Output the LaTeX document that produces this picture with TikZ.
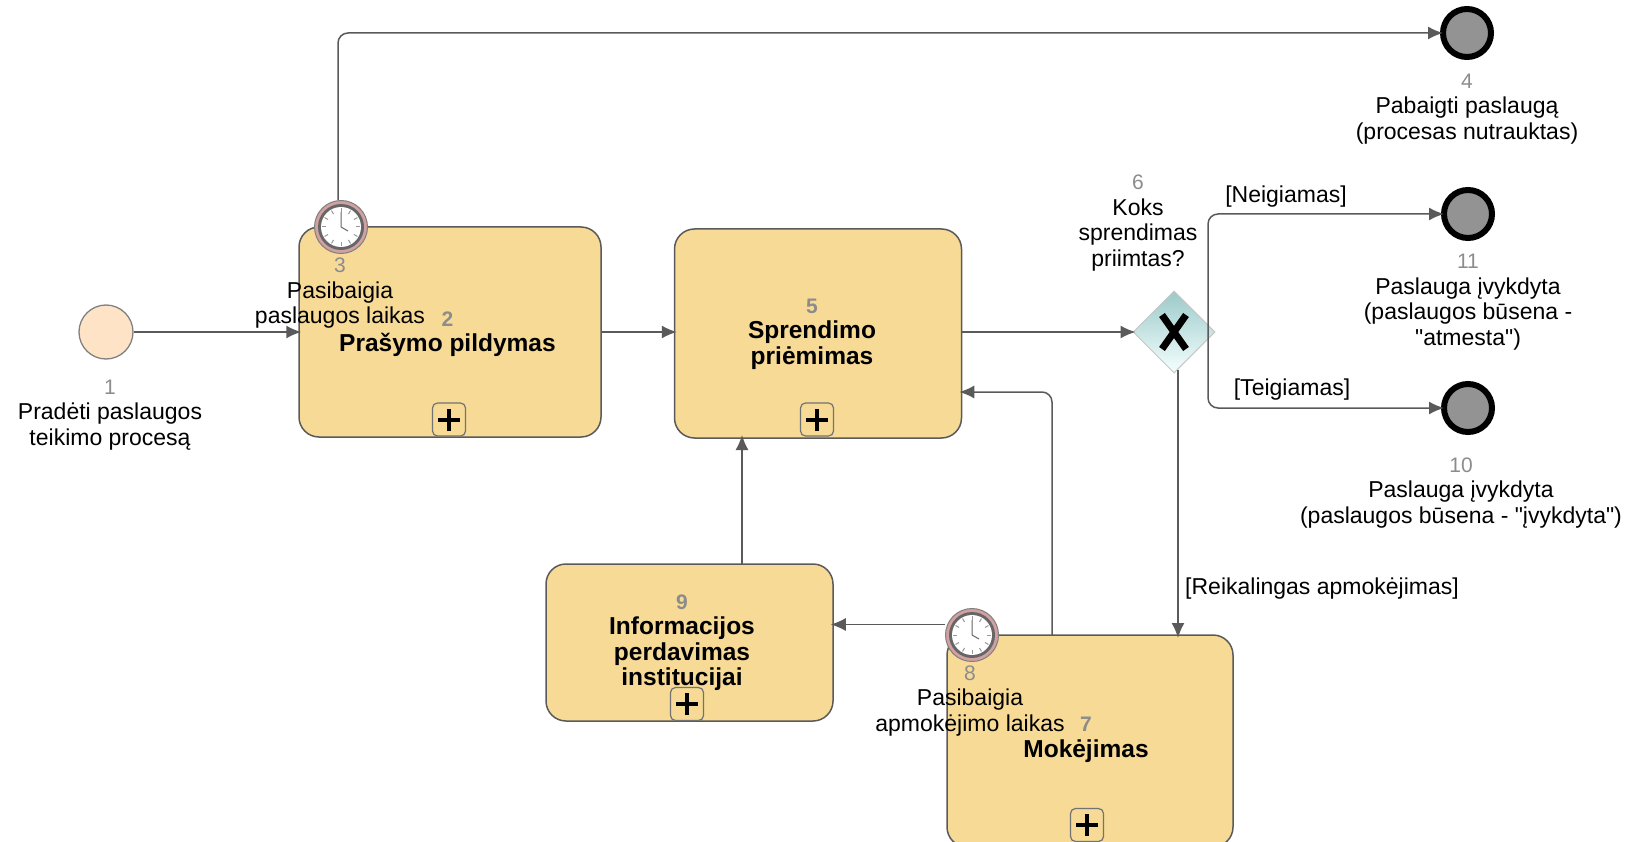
\documentclass[tikz,border=0pt]{standalone}
\usepackage{fontspec}
\setmainfont[Ligatures=TeXOff]{Liberation Sans}
\usetikzlibrary{shapes.geometric, arrows.meta, positioning}
\definecolor{taskfill}{HTML}{F6DA96}
\definecolor{lineg}{HTML}{5A5A5A}
\definecolor{numgray}{HTML}{8C8C8C}
\newcommand{\numlbl}[1]{\textcolor{numgray}{\fontsize{21}{25.5}\selectfont #1}}
\tikzset{
    task/.style={rectangle, draw=lineg, line width=1.5pt, rounded corners=20pt, fill=taskfill, inner sep=0pt},
    tasktext/.style={align=center, inner sep=0pt, font=\fontsize{24.5}{25.5}\selectfont\bfseries},
    txt/.style={align=center, inner sep=0pt, font=\fontsize{23}{25.5}\selectfont},
    flow/.style={draw=lineg, line width=1.5pt, rounded corners=10pt, shorten >=-3pt, -{Latex[length=15pt, width=13pt]}},
    endevent/.style={circle, draw=black, line width=6pt, fill=gray!85, minimum size=48pt, inner sep=0pt},
    startevent/.style={circle, draw=gray, line width=1.3pt, fill=orange!22, minimum size=54pt, inner sep=0pt},
    plusbox/.style={rectangle, draw=gray!90!black, line width=1.2pt, rounded corners=5pt, fill=taskfill, minimum size=33pt, inner sep=0pt,
        path picture={
            \draw[black, line width=4pt] ([xshift=-11pt]path picture bounding box.center) -- ([xshift=11pt]path picture bounding box.center);
            \draw[black, line width=4pt] ([yshift=-11pt]path picture bounding box.center) -- ([yshift=11pt]path picture bounding box.center);
        }},
    gateway/.style={diamond, aspect=1, draw=gray!45, line width=1pt, top color=cyan!30!gray!60, bottom color=cyan!4!white, minimum size=82pt, inner sep=0pt,
        path picture={
            \draw[black, line width=7pt] ([shift={(-12pt,-17pt)}]path picture bounding box.center) -- ([shift={(12pt,17pt)}]path picture bounding box.center);
            \draw[black, line width=7pt] ([shift={(-12pt,17pt)}]path picture bounding box.center) -- ([shift={(12pt,-17pt)}]path picture bounding box.center);
        }},
    timer/.style={circle, draw=gray, line width=1pt, fill=red!35!gray!55, minimum size=53pt, inner sep=0pt,
        path picture={
            \fill[black!60] (path picture bounding box.center) circle (23pt);
            \fill[white] (path picture bounding box.center) circle (20pt);
            \foreach \a in {0,30,...,330}
                \draw[gray!80, line width=1pt] ([shift={(\a:15pt)}]path picture bounding box.center) -- ([shift={(\a:19pt)}]path picture bounding box.center);
            \draw[black!60, line width=1pt] ([yshift=15pt]path picture bounding box.center) -- (path picture bounding box.center) -- ([shift={(7pt,-4pt)}]path picture bounding box.center);
        }}
}

\begin{document}
\begin{tikzpicture}[x=1pt, y=-1pt]
    \useasboundingbox (0,0) rectangle (1632,842);

    \node[startevent] (start) at (106,332) {};
    \node[task, minimum width=302pt, minimum height=210pt] (prasymas) at (450,332) {};
    \node[task, minimum width=287pt, minimum height=209pt] (sprendimas) at (818,333.5) {};
    \node[task, minimum width=287pt, minimum height=157pt] (informacija) at (689.5,642.5) {};
    \node[task, minimum width=286pt, minimum height=212pt] (mokejimas) at (1090,741) {};
    \node[gateway] (koks) at (1174,332) {};
    \node[endevent] (pabaiga) at (1467,33) {};
    \node[endevent] (atmesta) at (1468,214) {};
    \node[endevent] (ivykdyta) at (1468,408) {};
    \coordinate (koksout) at (1208,332);

    \node[plusbox] (plusprasymas) at (449,419.5) {};
    \node[plusbox] (plussprendimas) at (817,419.5) {};
    \node[plusbox] (plusinformacija) at (687,704) {};
    \node[plusbox] (plusmokejimas) at (1087,825) {};

    \path[flow] (start) -- (prasymas);
    \path[flow] (prasymas.east) -- (prasymas.east -| sprendimas.west);
    \path[flow] (sprendimas.east |- koks) -- (koks);
    \path[flow] (koksout) |- (atmesta);
    \path[flow] (koksout) |- (ivykdyta);
    \path[flow] (1178,370) -- (1178,635);
    \path[flow] (1052,635) |- (sprendimas.east |- 0,392);
    \path[flow] (742,564) -- (742,438);

    \node[timer] (terminas) at (341,227) {};
    \node[timer] (apmokejimas) at (972,635) {};
    \path[flow] (terminas.north -| 338,0) |- (pabaiga);
    \path[flow] (apmokejimas.west |- 0,624.5) -- (informacija.east |- 0,624.5);

    \node[txt] (lblstart) at (110,415) {\numlbl{1}\\Pradėti paslaugos\\teikimo procesą};
    \node[txt] (lblterminas) at (340,293.5) {\numlbl{3}\\Pasibaigia\\paslaugos laikas};
    \node[tasktext] (lblprasymas) at (447.5,334) {\numlbl{2}\\Prašymo pildymas};
    \node[tasktext] (lblsprendimas) at (812,334) {\numlbl{5}\\Sprendimo\\priėmimas};
    \node[tasktext] (lblinformacija) at (682,642.5) {\numlbl{9}\\Informacijos\\perdavimas\\institucijai};
    \node[tasktext] (lblmokejimas) at (1086,740) {\numlbl{7}\\Mokėjimas};
    \node[txt] (lblapmokejimas) at (970,701) {\numlbl{8}\\Pasibaigia\\apmokėjimo laikas};
    \node[txt] (lblkoks) at (1138,223) {\numlbl{6}\\Koks\\sprendimas\\priimtas?};
    \node[txt] (lblpabaiga) at (1467,109) {\numlbl{4}\\Pabaigti paslaugą\\(procesas nutrauktas)};
    \node[txt] (lblatmesta) at (1468,302) {\numlbl{11}\\Paslauga įvykdyta\\(paslaugos būsena -\\"atmesta")};
    \node[txt] (lblivykdyta) at (1461,493) {\numlbl{10}\\Paslauga įvykdyta\\(paslaugos būsena - "įvykdyta")};
    \node[txt] (lblneig) at (1286,197) {[Neigiamas]};
    \node[txt] (lblteig) at (1292,390) {[Teigiamas]};
    \node[txt] (lblreik) at (1322,589) {[Reikalingas apmokėjimas]};
\end{tikzpicture}
\end{document}
